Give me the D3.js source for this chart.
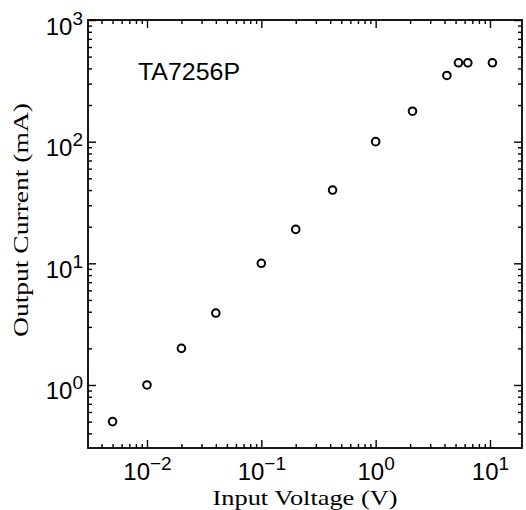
<!DOCTYPE html>
<html><head><meta charset="utf-8">
<script src="https://cdn.jsdelivr.net/npm/d3@7"></script>
<style>body{margin:0;background:#fff}</style>
</head><body>
<svg id="c" width="526" height="510"></svg>
<script>
// Data
const inputVoltage  = [0.005, 0.01, 0.02, 0.04, 0.1, 0.2, 0.42, 1.0, 2.1, 4.2, 5.3, 6.4, 10.5];
const outputCurrent = [0.5, 1.0, 2.0, 3.9, 10, 19, 40, 100, 178, 350, 445, 445, 445];
const xMajorTicks = [1e-2, 1e-1, 1, 10];
const xMajorExp   = ["\u22122", "\u22121", "0", "1"];
const yMajorTicks = [1, 10, 100, 1000];
const yMajorExp   = ["0", "1", "2", "3"];
const xDomain = [Math.pow(10, -2.516), Math.pow(10, 1.28)];
const yDomain = [Math.pow(10, -0.518), 1000];
const chartLabel = "TA7256P";
const xTitle = "Input Voltage (V)";
const yTitle = "Output Current (mA)";

const L = 88, R = 522, T = 20, B = 448;
const svg = d3.select("#c");
const x = d3.scaleLog().domain(xDomain).range([L, R]);
const y = d3.scaleLog().domain(yDomain).range([B, T]);

function minorTicks(dom, majors) {
  const out = [];
  const lo = Math.floor(Math.log10(dom[0])), hi = Math.ceil(Math.log10(dom[1]));
  for (let e = lo; e <= hi; e++) for (let m = 2; m <= 9; m++) {
    const v = m * Math.pow(10, e);
    if (v >= dom[0] && v <= dom[1]) out.push(v);
  }
  return out;
}
const xMinor = minorTicks(xDomain), yMinor = minorTicks(yDomain);

function styleAxis(g) {
  g.select(".domain").remove();
  g.selectAll("line").attr("stroke", "#000").attr("stroke-width", 1.4);
}

// minor ticks
svg.append("g").attr("transform", `translate(0,${B})`)
  .call(d3.axisBottom(x).tickValues(xMinor).tickSize(-4).tickFormat("")).call(styleAxis);
svg.append("g").attr("transform", `translate(0,${T})`)
  .call(d3.axisBottom(x).tickValues(xMinor).tickSize(4).tickFormat("")).call(styleAxis);
svg.append("g").attr("transform", `translate(${L},0)`)
  .call(d3.axisLeft(y).tickValues(yMinor).tickSize(-4).tickFormat("")).call(styleAxis);
svg.append("g").attr("transform", `translate(${R},0)`)
  .call(d3.axisLeft(y).tickValues(yMinor).tickSize(4).tickFormat("")).call(styleAxis);
// major ticks (unlabelled top/right)
svg.append("g").attr("transform", `translate(0,${T})`)
  .call(d3.axisBottom(x).tickValues(xMajorTicks).tickSize(8).tickFormat("")).call(styleAxis);
svg.append("g").attr("transform", `translate(${R},0)`)
  .call(d3.axisLeft(y).tickValues(yMajorTicks).tickSize(8).tickFormat("")).call(styleAxis);

// labelled bottom axis
const gx = svg.append("g").attr("transform", `translate(0,${B})`)
  .call(d3.axisBottom(x).tickValues(xMajorTicks).tickSize(-8).tickFormat(""));
styleAxis(gx);
gx.selectAll(".tick").each(function(d, i) {
  const t = d3.select(this).append("text")
    .attr("y", 32).attr("x", 0).attr("text-anchor", "middle")
    .attr("fill", "#000").attr("font-family", "Liberation Sans, Arial, sans-serif")
    .attr("font-size", 24);
  t.append("tspan").text("10");
  t.append("tspan").attr("dy", -10).attr("font-size", 19).text(xMajorExp[i]);
});

// labelled left axis
const gy = svg.append("g").attr("transform", `translate(${L},0)`)
  .call(d3.axisLeft(y).tickValues(yMajorTicks).tickSize(-8).tickFormat(""));
styleAxis(gy);
gy.selectAll(".tick").each(function(d, i) {
  const t = d3.select(this).append("text")
    .attr("x", -5).attr("y", 14).attr("text-anchor", "end")
    .attr("fill", "#000").attr("font-family", "Liberation Sans, Arial, sans-serif")
    .attr("font-size", 24);
  t.append("tspan").text("10");
  t.append("tspan").attr("dy", -10).attr("font-size", 19).text(yMajorExp[i]);
});

// frame
svg.append("rect").attr("x", L).attr("y", T).attr("width", R - L).attr("height", B - T)
  .attr("fill", "none").attr("stroke", "#000").attr("stroke-width", 1.8);

// points
svg.append("g").selectAll("circle").data(inputVoltage).join("circle")
  .attr("cx", d => x(d)).attr("cy", (d, i) => y(outputCurrent[i]))
  .attr("r", 3.8).attr("fill", "none").attr("stroke", "#000").attr("stroke-width", 2);

// label
svg.append("text").attr("x", 138).attr("y", 80)
  .attr("font-family", "Liberation Sans, Arial, sans-serif").attr("font-size", 24)
  .attr("textLength", 102).attr("lengthAdjust", "spacingAndGlyphs")
  .text(chartLabel);

// axis titles
svg.append("text").attr("x", 305).attr("y", 505).attr("text-anchor", "middle")
  .attr("font-family", "Liberation Serif, Times New Roman, serif").attr("font-size", 22)
  .attr("textLength", 185).attr("lengthAdjust", "spacingAndGlyphs")
  .text(xTitle);
svg.append("text").attr("transform", "translate(28,220) rotate(-90)").attr("text-anchor", "middle")
  .attr("font-family", "Liberation Serif, Times New Roman, serif").attr("font-size", 22)
  .attr("textLength", 234).attr("lengthAdjust", "spacingAndGlyphs")
  .text(yTitle);
</script>
</body></html>
